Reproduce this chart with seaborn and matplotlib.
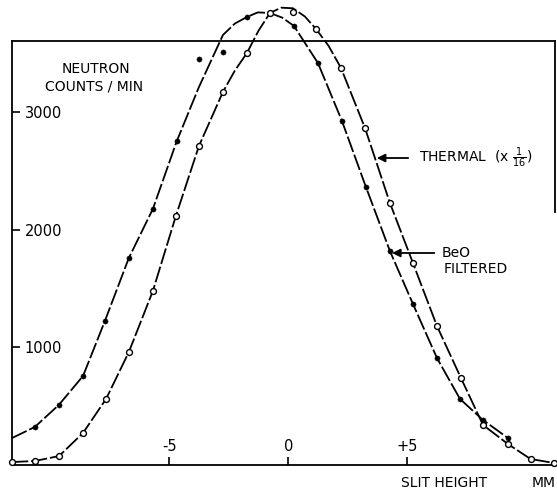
import numpy as np
import pandas as pd
import seaborn as sns
import matplotlib.pyplot as plt

# slit height (mm) and neutron counts / min
beo_x = [-10.67, -9.66, -8.64, -7.72, -6.71, -5.70, -4.69, -3.76, -2.75, -1.74,
         0.24, 1.25, 2.26, 3.27, 4.28, 5.25, 6.26, 7.23, 8.20, 9.25]
beo_y = [323, 510, 756, 1223, 1759, 2175, 2753, 3449, 3509, 3806,
         3730, 3415, 2923, 2362, 1818, 1368, 909, 561, 382, 229]

thermal_x = [-11.63, -10.67, -9.65, -8.64, -7.67, -6.71, -5.70, -4.73, -3.76, -2.75,
             -1.74, -0.77, 0.20, 1.17, 2.22, 3.23, 4.28, 5.25, 6.26, 7.27, 8.20, 9.25,
             10.20, 11.19]
thermal_y = [25, 34, 76, 272, 561, 960, 1478, 2116, 2710, 3169,
             3500, 3840, 3849, 3704, 3373, 2863, 2226, 1716, 1181, 739, 340, 178,
             51, 17]

# the drawn (hand fitted) curves, read along the lines of the figure
beo_curve_x = [-11.63, -10.67, -9.66, -8.64, -7.72, -6.71, -5.70, -4.69, -3.76, -2.75,
               -2.25, -1.74, -1.28, -0.77, -0.25, 0.24, 1.25, 2.26, 3.27, 4.28, 5.25,
               6.26, 7.23, 8.20, 9.25]
beo_curve_y = [229, 323, 510, 756, 1223, 1759, 2175, 2753, 3211, 3653,
               3750, 3806, 3845, 3840, 3800, 3730, 3415, 2923, 2362, 1818, 1368,
               909, 561, 382, 229]

thermal_curve_x = [-11.63, -10.67, -9.65, -8.64, -7.67, -6.71, -5.70, -4.73, -3.76,
                   -2.75, -2.25, -1.74, -1.25, -0.77, -0.30, 0.20, 0.70, 1.17, 1.70,
                   2.22, 3.23, 4.28, 5.25, 6.26, 7.27, 8.20, 9.25, 10.20, 11.19]
thermal_curve_y = [25, 34, 76, 272, 561, 960, 1478, 2116, 2710,
                   3169, 3350, 3500, 3690, 3840, 3885, 3880, 3810, 3704, 3560,
                   3373, 2863, 2226, 1716, 1181, 739, 340, 178, 51, 17]

x_ticks = [-5, 0, 5]
x_labels = ["-5", "0", "+5"]
y_ticks = [1000, 2000, 3000]

sns.set_style("ticks")
plt.rcParams['font.family'] = ['DejaVu Sans']
plt.rcParams['text.color'] = 'black'
plt.rcParams['xtick.color'] = 'black'
plt.rcParams['ytick.color'] = 'black'

fig = plt.figure(figsize=(5.57, 4.91), dpi=100)
ax = fig.add_axes([12 / 557, 26 / 491, 543 / 557, 424 / 491])

dash = (0, (9, 1.6))
beo_line = pd.DataFrame({"x": beo_curve_x, "y": beo_curve_y})
th_line = pd.DataFrame({"x": thermal_curve_x, "y": thermal_curve_y})
sns.lineplot(data=beo_line, x="x", y="y", sort=False, color="black", lw=1.3,
             linestyle=dash, ax=ax, clip_on=False, zorder=2)
sns.lineplot(data=th_line, x="x", y="y", sort=False, color="black", lw=1.3,
             linestyle=dash, ax=ax, clip_on=False, zorder=2)

sns.scatterplot(x=beo_x, y=beo_y, color="black", s=14, edgecolor="black",
                ax=ax, clip_on=False, zorder=4)
sns.scatterplot(x=thermal_x, y=thermal_y, facecolor="white", edgecolor="black",
                s=18, linewidth=1.0, ax=ax, clip_on=False, zorder=4)

ax.set_xlim(-11.63, 11.23)
ax.set_ylim(0, 3602)
ax.set_xlabel("")
ax.set_ylabel("")

ax.set_xticks(x_ticks)
ax.set_xticklabels(x_labels)
ax.set_yticks(y_ticks)
ax.tick_params(axis="both", direction="in", length=6, width=1.2, colors="black",
               labelsize=10.5)
ax.tick_params(axis="x", pad=-19)
ax.tick_params(axis="y", pad=-9)
for lab in ax.get_yticklabels():
    lab.set_horizontalalignment("left")

for s in ax.spines.values():
    s.set_color("black")
    s.set_linewidth(1.3)
ax.spines["right"].set_bounds(2150, 3602)

fs = 10
ax.text(-8.1, 3364, "NEUTRON", ha="center", va="center", fontsize=fs)
ax.text(-8.18, 3212, "COUNTS / MIN", ha="center", va="center", fontsize=fs)

ax.annotate("", xy=(3.73, 2608), xytext=(5.05, 2608),
            arrowprops=dict(arrowstyle="-|>", color="black", lw=1.3,
                            mutation_scale=12, shrinkA=0, shrinkB=0))
ax.text(5.5, 2608, r"THERMAL  (x $\frac{1}{16}$)", ha="left", va="center", fontsize=fs)

ax.annotate("", xy=(4.37, 1801), xytext=(6.15, 1801),
            arrowprops=dict(arrowstyle="-|>", color="black", lw=1.3,
                            mutation_scale=12, shrinkA=0, shrinkB=0))
ax.text(6.47, 1800, "BeO", ha="left", va="center", fontsize=fs)
ax.text(6.55, 1665, "FILTERED", ha="left", va="center", fontsize=fs)

ax.text(4.74, -153, "SLIT HEIGHT", ha="left", va="center", fontsize=fs, clip_on=False)
ax.text(10.26, -153, "MM", ha="left", va="center", fontsize=fs, clip_on=False)

fig.savefig("out.png", dpi=100)
